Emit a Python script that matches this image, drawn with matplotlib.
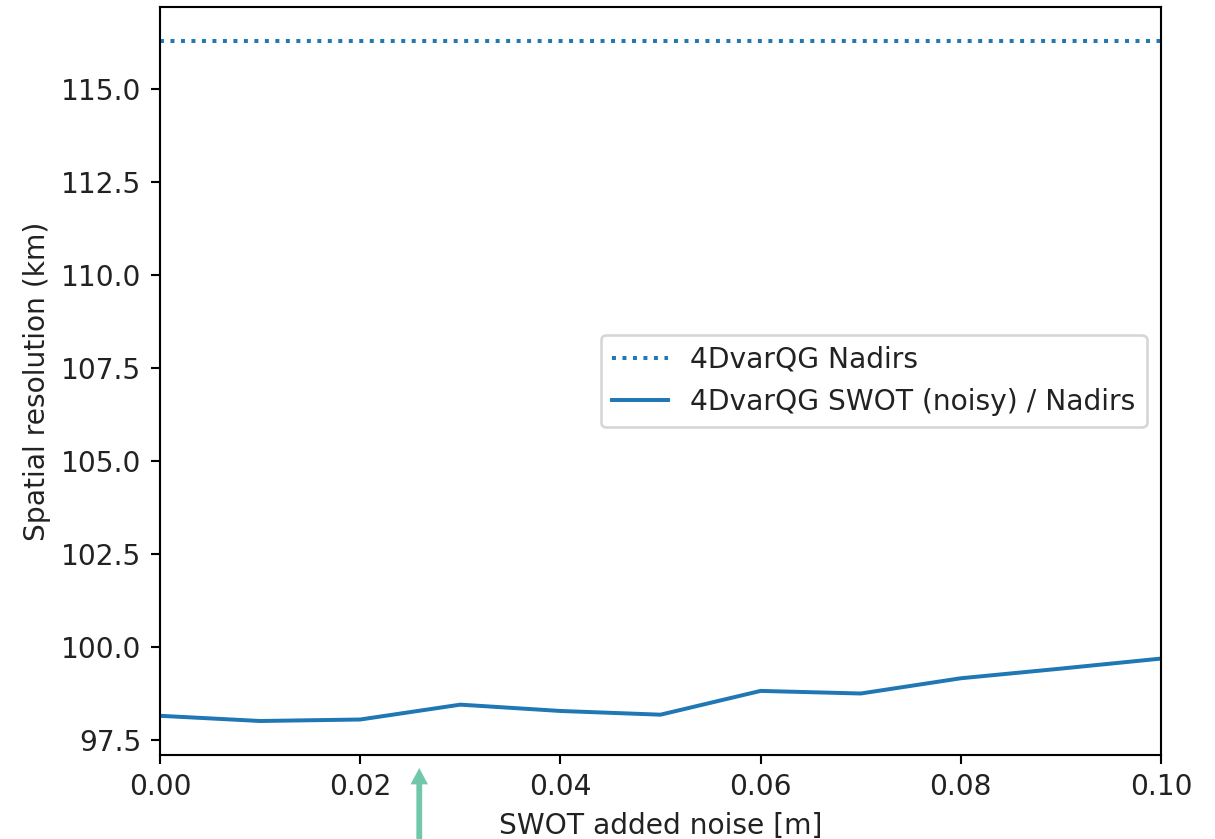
import matplotlib
matplotlib.use("Agg")
import matplotlib.pyplot as plt

noise = [0.00, 0.01, 0.02, 0.03, 0.04, 0.05, 0.06, 0.07, 0.08, 0.09, 0.10]
swot_nadirs = [98.14, 98.00, 98.04, 98.44, 98.27, 98.17, 98.81, 98.74, 99.15, 99.41, 99.68]
nadirs_only = 116.3
arrow_x = 0.0259

plt.rcParams['font.size'] = 10.65
plt.rcParams['text.color'] = '#222222'
plt.rcParams['xtick.labelcolor'] = '#222222'
plt.rcParams['ytick.labelcolor'] = '#222222'
plt.rcParams['axes.labelcolor'] = '#222222'

DPI = 190
fig = plt.figure(figsize=(1215 / DPI, 839 / DPI), dpi=DPI)
ax = fig.add_axes([160 / 1215, 1 - 755 / 839, (1161 - 160) / 1215, (755 - 7) / 839])

ax.plot(noise, [nadirs_only] * len(noise), linestyle=':', color='#1f77b4', label='4DvarQG Nadirs')
ax.plot(noise, swot_nadirs, linestyle='-', color='#1f77b4', label='4DvarQG SWOT (noisy) / Nadirs')
ax.set_xlim(0, 0.1)
ax.set_xlabel('SWOT added noise [m]')
ax.set_ylabel('Spatial resolution (km)')
ax.legend(loc='center right')

ax.annotate('', xy=(arrow_x, 1 - 768 / 839), xycoords=('data', 'figure fraction'),
            xytext=(arrow_x, -0.1), textcoords=('data', 'figure fraction'),
            arrowprops=dict(width=2.2, headwidth=6.6, headlength=6.2, shrink=0,
                            color='#70c8a9', linewidth=0),
            annotation_clip=False)

fig.savefig('out.png', dpi=DPI)
